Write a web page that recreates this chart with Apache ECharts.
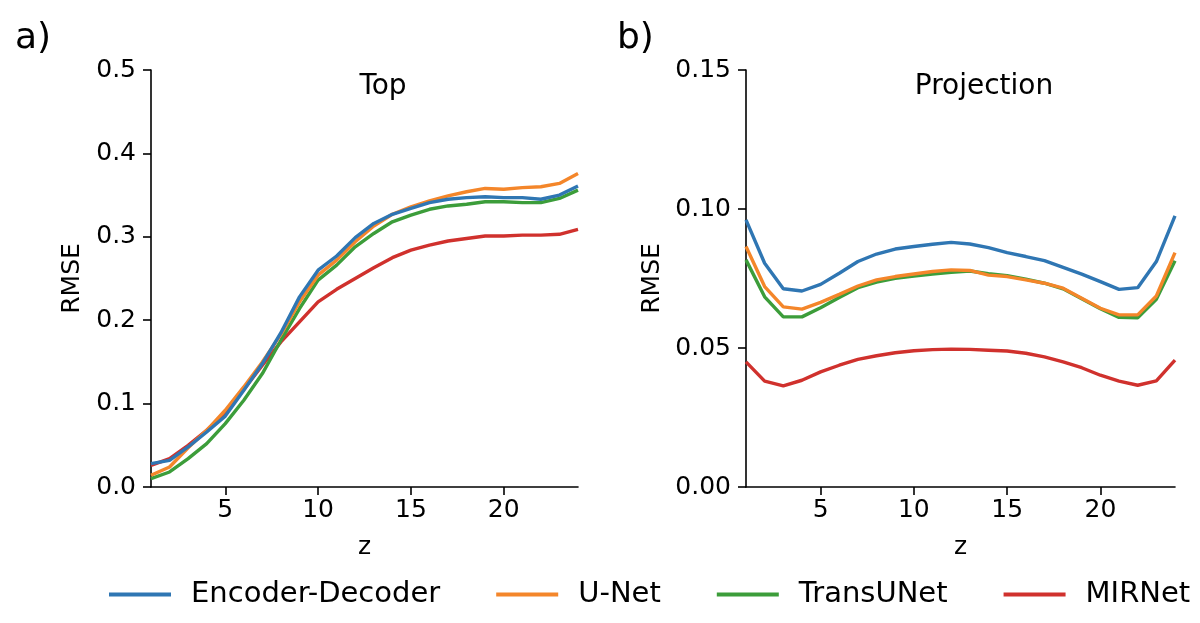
<!DOCTYPE html>
<html>
<head>
<meta charset="utf-8">
<script src="https://cdn.jsdelivr.net/npm/echarts@6/dist/echarts.min.js"></script>
<style>html,body{margin:0;padding:0;background:#fff}#c{width:1200px;height:623px}</style>
</head>
<body>
<div id="c"></div>
<script>
const z = [1,2,3,4,5,6,7,8,9,10,11,12,13,14,15,16,17,18,19,20,21,22,23,24];
const seriesNames = ['Encoder-Decoder','U-Net','TransUNet','MIRNet'];
const xTicks = [5,10,15,20];
const topEncDec = [0.028,0.032,0.048,0.066,0.085,0.116,0.148,0.185,0.228,0.260,0.277,0.299,0.316,0.327,0.334,0.341,0.345,0.347,0.348,0.347,0.347,0.345,0.350,0.361];
const topUNet   = [0.014,0.024,0.047,0.068,0.092,0.120,0.150,0.183,0.222,0.254,0.272,0.294,0.313,0.327,0.336,0.343,0.349,0.354,0.358,0.357,0.359,0.360,0.364,0.376];
const topTrans  = [0.010,0.018,0.034,0.052,0.076,0.104,0.136,0.176,0.214,0.248,0.266,0.288,0.304,0.318,0.326,0.333,0.337,0.339,0.342,0.342,0.341,0.341,0.346,0.356];
const topMIR    = [0.026,0.034,0.050,0.068,0.089,0.117,0.146,0.174,0.198,0.222,0.237,0.250,0.263,0.275,0.284,0.290,0.295,0.298,0.301,0.301,0.302,0.302,0.303,0.309];
const projEncDec = [0.0961,0.0805,0.0713,0.0705,0.0729,0.0769,0.0811,0.0838,0.0856,0.0865,0.0873,0.0880,0.0874,0.0861,0.0843,0.0829,0.0814,0.0790,0.0766,0.0739,0.0711,0.0717,0.0811,0.0975];
const projUNet   = [0.0865,0.0721,0.0648,0.0640,0.0664,0.0693,0.0723,0.0745,0.0757,0.0766,0.0775,0.0781,0.0779,0.0762,0.0757,0.0745,0.0733,0.0715,0.0679,0.0643,0.0619,0.0619,0.0687,0.0843];
const projTrans  = [0.0817,0.0684,0.0612,0.0612,0.0645,0.0682,0.0717,0.0737,0.0751,0.0759,0.0766,0.0772,0.0777,0.0767,0.0760,0.0748,0.0733,0.0713,0.0677,0.0641,0.0610,0.0609,0.0675,0.0814];
const projMIR    = [0.0450,0.0381,0.0364,0.0384,0.0414,0.0438,0.0459,0.0472,0.0483,0.0490,0.0494,0.0496,0.0495,0.0492,0.0489,0.0481,0.0468,0.0450,0.0429,0.0402,0.0381,0.0366,0.0382,0.0456];
const colors = ['#2f76b3','#f4862a','#3c9d3a','#d0312d'];

const FONT = 'DejaVu Sans';
const topData = [topEncDec, topUNet, topTrans, topMIR];
const projData = [projEncDec, projUNet, projTrans, projMIR];

function xAxis(gi){
  return {
    type:'value', gridIndex:gi, min:1, max:24,
    name:'z', nameLocation:'middle', nameGap:48,
    nameTextStyle:{fontFamily:FONT, fontSize:25, color:'#000'},
    axisLine:{show:true, lineStyle:{color:'#000', width:1.6}},
    axisTick:{show:true, customValues:xTicks, length:8, lineStyle:{color:'#000', width:1.6}},
    axisLabel:{customValues:xTicks, fontFamily:FONT, fontSize:25, color:'#000', margin:11},
    splitLine:{show:false}
  };
}
function yAxis(gi, max, interval, dec){
  return {
    type:'value', gridIndex:gi, min:0, max:max, interval:interval,
    name:'RMSE', nameLocation:'middle', nameGap: dec===1?66:81, nameRotate:90,
    nameTextStyle:{fontFamily:FONT, fontSize:25, color:'#000'},
    axisLine:{show:true, lineStyle:{color:'#000', width:1.6}},
    axisTick:{show:true, length:8, lineStyle:{color:'#000', width:1.6}},
    axisLabel:{fontFamily:FONT, fontSize:25, color:'#000', margin:15, formatter:v=>v.toFixed(dec)},
    splitLine:{show:false}
  };
}
const series = [];
seriesNames.forEach((n,i)=>{
  series.push({name:n, type:'line', xAxisIndex:0, yAxisIndex:0, data:z.map((v,k)=>[v, topData[i][k]]),
    showSymbol:false, lineStyle:{width:3.4, color:colors[i]}, itemStyle:{color:colors[i]}, z:10-i});
  series.push({name:n, type:'line', xAxisIndex:1, yAxisIndex:1, data:z.map((v,k)=>[v, projData[i][k]]),
    showSymbol:false, lineStyle:{width:3.4, color:colors[i]}, itemStyle:{color:colors[i]}, z:10-i});
});
const chart = echarts.init(document.getElementById('c'), null, {renderer:'canvas'});
chart.setOption({
  animation:false,
  backgroundColor:'#fff',
  grid:[
    {left:151, right:622, top:70, bottom:136},
    {left:746, right:25, top:70, bottom:136}
  ],
  title:[
    {text:'Top', left:378, top:68, textAlign:'center', textStyle:{fontFamily:FONT, fontSize:28, fontWeight:'normal', color:'#000'}},
    {text:'Projection', left:979, top:68, textAlign:'center', textStyle:{fontFamily:FONT, fontSize:28, fontWeight:'normal', color:'#000'}},
    {text:'a)', left:10, top:16, textStyle:{fontFamily:FONT, fontSize:36, fontWeight:'normal', color:'#000'}},
    {text:'b)', left:612, top:16, textStyle:{fontFamily:FONT, fontSize:36, fontWeight:'normal', color:'#000'}}
  ],
  legend:{
    data:seriesNames, top:575, left:104, icon:'rect', itemWidth:62, itemHeight:4, itemGap:56,
    textStyle:{fontFamily:FONT, fontSize:29, color:'#000', padding:[0,0,0,15]}
  },
  xAxis:[xAxis(0), xAxis(1)],
  yAxis:[yAxis(0,0.5,0.1,1), yAxis(1,0.15,0.05,2)],
  series:series
});
</script>
</body>
</html>
